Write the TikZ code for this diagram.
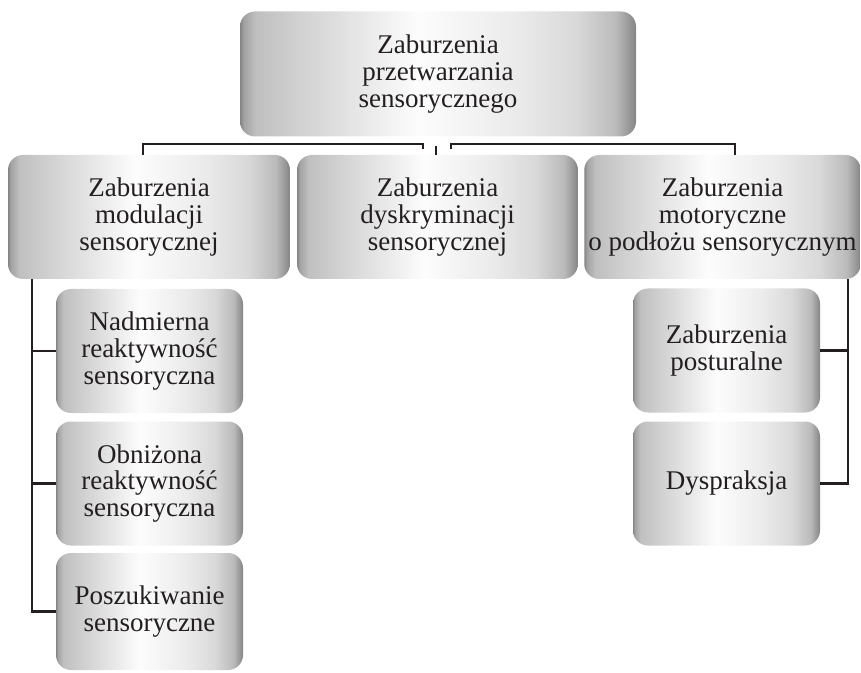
\documentclass[tikz,border=0pt]{standalone}
\usepackage{fontspec}
\setmainfont{Liberation Serif}
\pgfdeclarehorizontalshading{boxshade}{100bp}{color(0bp)=(black!48); color(25bp)=(black!48); color(25.5bp)=(black!36); color(27bp)=(black!25); color(32.5bp)=(black!18); color(47.5bp)=(black!1); color(60bp)=(black!8); color(67.5bp)=(black!15); color(72.5bp)=(black!27); color(75bp)=(black!48); color(100bp)=(black!48)}
\definecolor{ink}{HTML}{231F20}
\tikzset{
  box/.style={shade, shading=boxshade, rounded corners=7.5pt, align=center,
    inner sep=2pt, text=ink, font=\fontsize{13.5}{13.3}\selectfont},
  wide/.style={minimum width=#1, minimum height=62pt},
  link/.style={draw=ink, line width=1.1pt}
}
\begin{document}
\begin{tikzpicture}[x=0.5pt,y=-0.5pt]
      \useasboundingbox (0,0) rectangle (861,673);
      \node[box, minimum width=198pt, minimum height=62.5pt] (top) at (438,74)
        {Zaburzenia\\przetwarzania\\sensorycznego};
      \node[box, wide=141pt] (mod) at (149,217) {Zaburzenia\\modulacji\\sensorycznej};
      \node[box, wide=140.5pt] (dysk) at (437.5,217) {Zaburzenia\\dyskryminacji\\sensorycznej};
      \node[box, wide=137.5pt] (mot) at (722.5,217) {Zaburzenia\\motoryczne\\o podłożu sensorycznym};
      \node[box, wide=93.5pt] (nad) at (149.5,351) {Nadmierna\\reaktywność\\sensoryczna};
      \node[box, wide=93.5pt] (obn) at (149.5,483.5) {Obniżona\\reaktywność\\sensoryczna};
      \node[box, wide=93.5pt, minimum height=58.5pt] (szuk) at (149.5,611.5) {Poszukiwanie\\sensoryczne};
      \node[box, wide=93.5pt] (post) at (726.5,350.5) {Zaburzenia\\posturalne};
      \node[box, wide=93.5pt] (dys) at (726.5,483.5) {Dyspraksja};
      \coordinate (hubL) at (423,149);
      \coordinate (hubR) at (451,149);
      \begin{scope}[link]
        \draw ([xshift=-3pt]mod.north) |- ([yshift=2.5pt]hubL) -- (hubL);
        \draw (hubR) -- ([yshift=2.5pt]hubR) -| ([xshift=6.25pt]mot.north);
        \draw ([xshift=-0.75pt,yshift=4.5pt]dysk.north) -- ([xshift=-0.75pt]dysk.north);
        \draw ([xshift=12pt]mod.south west) |- (szuk.west);
        \draw (nad.west) -- ++(-12pt,0);
        \draw (obn.west) -- ++(-12pt,0);
        \draw ([xshift=-6.5pt]mot.south east) |- (dys.east);
        \draw (post.east) -- ++(13.5pt,0);
      \end{scope}
    \end{tikzpicture}
\end{document}
